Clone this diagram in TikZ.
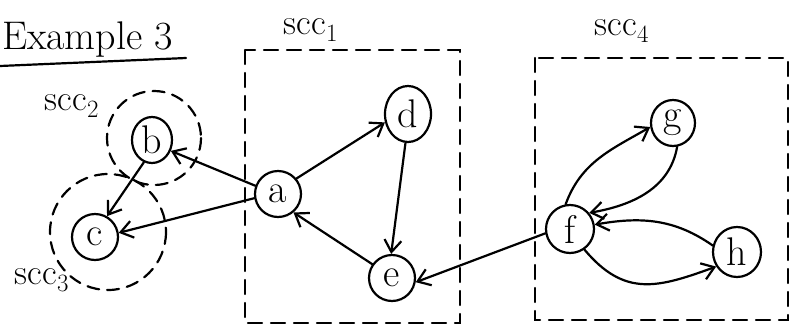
\documentclass[tikz,border=0pt]{standalone}
\usetikzlibrary{arrows.meta,shapes.geometric}
\begin{document}
\begin{tikzpicture}[x=1pt,y=-1pt,
  line width=2.2pt, line cap=round,
  vertex/.style={draw, ellipse, minimum width=46pt, minimum height=46pt, inner sep=0pt,
    font=\fontsize{40}{42}\selectfont},
  sccbox/.style={draw, dash pattern=on 14pt off 9pt},
  sccring/.style={draw, dash pattern=on 12pt off 8pt},
  sccname/.style={inner sep=0pt, font=\fontsize{36}{38}\selectfont},
  edge/.style={-{Straight Barb[length=12pt,width=17pt,line width=2.2pt]}}]
\useasboundingbox (0,0) rectangle (793,330);

% heading
\node[anchor=west, inner sep=0pt, font=\fontsize{40}{42}\selectfont] (title) at (1,40) {Example 3};
\draw (0,66) -- (186,58);

% components
\draw[sccbox] (245,50) rectangle (460,323);
\draw[sccbox] (535,58) rectangle (788,320);
\draw[sccring] (154,138) circle (47);
\draw[sccring] (108,232) circle (58);

\node[sccname] (l1) at (311,30) {scc$_1$};
\node[sccname] (l2) at (72,106) {scc$_2$};
\node[sccname] (l3) at (42,280) {scc$_3$};
\node[sccname] (l4) at (622,31) {scc$_4$};

% vertices
\node[vertex, minimum width=40pt, minimum height=46pt] (b) at (152,140) {b};
\node[vertex] (c) at (95,237) {c};
\node[vertex] (a) at (278,194) {a};
\node[vertex, minimum width=46pt, minimum height=56pt] (d) at (408,114) {d};
\node[vertex] (e) at (392,278) {e};
\node[vertex, minimum width=48pt, minimum height=48pt] (f) at (570,229) {f};
\node[vertex, minimum width=44pt, minimum height=46pt] (g) at (673,123) {g};
\node[vertex, minimum width=48pt, minimum height=50pt] (h) at (737,252) {h};

% edges
\draw[edge] (a.160) -- (b.-30);
\draw[edge] (a.190) -- (c.10);
\draw[edge] (b.-110) -- (c.60);
\draw[edge] (a.40) -- (d.200);
\draw[edge] (d.-95) -- (e.92);
\draw[edge] (e.145) -- (a.-50);
\draw[edge] (f.190) -- (e.-10);
\draw[edge] (f.100) to[out=70, in=210] (g.190);
\draw[edge] (g.-80) to[out=-100, in=10] (f.40);
\draw[edge] (h.165) to[out=145, in=10] (f.10);
\draw[edge] (f.-55) to[out=-50, in=-160, looseness=1.2] (h.215);
\end{tikzpicture}
\end{document}
